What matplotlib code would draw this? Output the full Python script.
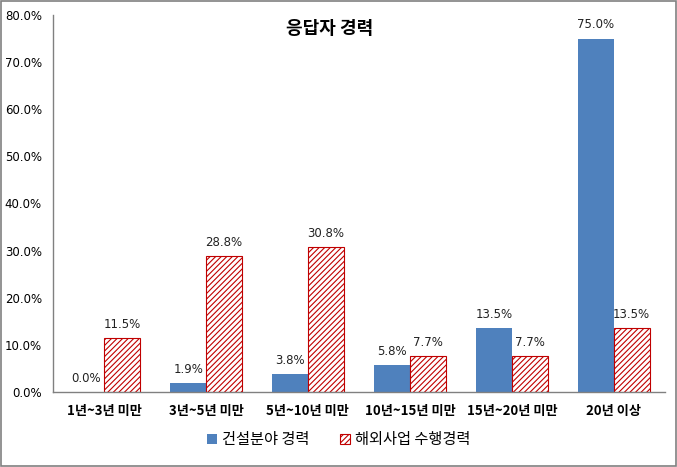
import matplotlib
matplotlib.use("Agg")
import matplotlib.pyplot as plt
import numpy as np
from matplotlib.patches import Rectangle

plt.rcParams['font.family'] = ['Noto Sans CJK KR', 'DejaVu Sans']
plt.rcParams['hatch.linewidth'] = 0.8

categories = ['1년~3년 미만', '3년~5년 미만', '5년~10년 미만', '10년~15년 미만', '15년~20년 미만', '20년 이상']
construction = [0.0, 1.9, 3.8, 5.8, 13.5, 75.0]
overseas = [11.5, 28.8, 30.8, 7.7, 7.7, 13.5]
series_names = ['건설분야 경력', '해외사업 수행경력']
yticks = [0, 10, 20, 30, 40, 50, 60, 70, 80]

fig = plt.figure(figsize=(6.77, 4.67), dpi=100)
ax = fig.add_axes([0.0783, 0.1606, 0.9037, 0.8074])

x = np.arange(len(categories))
w = 0.35
blue = '#4F81BD'
b1 = ax.bar(x - w/2, construction, w, color=blue, edgecolor=blue, linewidth=0)
b2 = ax.bar(x + w/2, overseas, w, color='white', edgecolor='#C00000', hatch='//////', linewidth=0.8)

for xi, v in zip(x - w/2, construction):
    ax.text(xi, v + 1.5, f'{v:.1f}%', ha='center', va='bottom', fontsize=8.5, color='#222222', family=['DejaVu Sans'])
for xi, v in zip(x + w/2, overseas):
    ax.text(xi, v + 1.5, f'{v:.1f}%', ha='center', va='bottom', fontsize=8.5, color='#222222', family=['DejaVu Sans'])

ax.set_xlim(-0.5, len(categories) - 0.5)
ax.set_ylim(0, 80)
ax.set_yticks(yticks)
ax.set_yticklabels([f'{t:.1f}%' for t in yticks], fontsize=8.5, family=['DejaVu Sans'])
ax.set_xticks(x)
ax.set_xticklabels(categories, fontsize=9.5, fontweight='bold')
ax.tick_params(axis='y', length=0, pad=8)
ax.tick_params(axis='x', length=0, pad=9)
for s in ['top', 'right']:
    ax.spines[s].set_visible(False)
for s in ['left', 'bottom']:
    ax.spines[s].set_color('#808080')
    ax.spines[s].set_linewidth(1.0)

fig.text(0.487, 0.94, '응답자 경력', ha='center', va='center', fontsize=13, fontweight='bold')

leg = fig.legend([b1, b2], series_names, loc='center', bbox_to_anchor=(0.5, 0.058), ncol=2,
                 frameon=False, handlelength=0.7, handleheight=0.7,
                 columnspacing=2.0, handletextpad=0.3, prop={'weight': 'medium', 'size': 11})

fig.add_artist(Rectangle((0.001, 0.002), 0.997, 0.996, transform=fig.transFigure,
                         fill=False, edgecolor='#808080', linewidth=1.2))

fig.savefig('out.png', dpi=100)
